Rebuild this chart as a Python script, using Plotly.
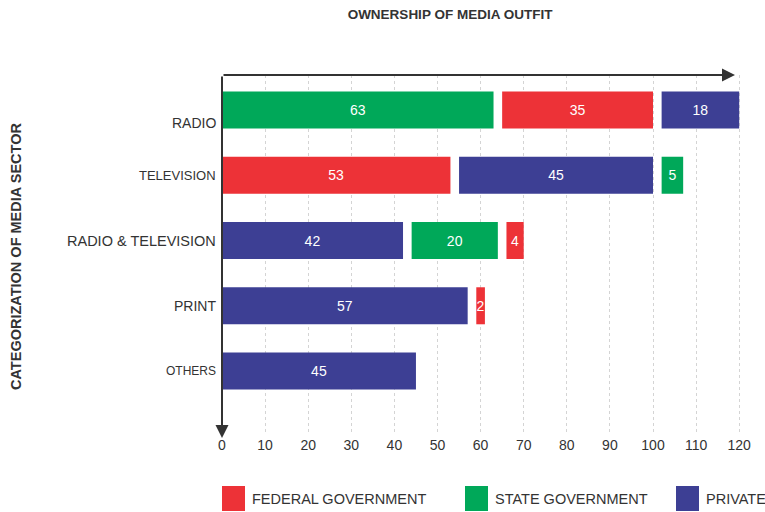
import plotly.graph_objects as go

# Media sectors and ownership counts
sectors = ["RADIO", "TELEVISION", "RADIO & TELEVISION", "PRINT", "OTHERS"]
series_names = ["FEDERAL GOVERNMENT", "STATE GOVERNMENT", "PRIVATE"]
federal = [35, 53, 4, 2, 0]
state = [63, 5, 20, 0, 0]
private = [18, 45, 42, 57, 45]
x_ticks = [0, 10, 20, 30, 40, 50, 60, 70, 80, 90, 100, 110, 120]

colors = ["#ED3237", "#00A859", "#3D3F94"]
FONT = "Liberation Sans, Arial, sans-serif"
TEXT_COL = "#333333"

W, H = 765, 512
M_L, M_R, M_T, M_B = 222, 20, 75, 77
PW, PH = W - M_L - M_R, H - M_T - M_B

def px_x(px):
    return (px - M_L) / PW

def px_y(py):
    return (H - M_B - py) / PH

series = [federal, state, private]
GAP = 2.0  # spacing between neighbouring segments, in axis units

# Segments in each row are laid out largest first, with a small gap between them
bases = [[None] * len(sectors) for _ in series]
for i in range(len(sectors)):
    order = sorted(range(len(series)), key=lambda k: -series[k][i])
    start = 0.0
    for k in order:
        v = series[k][i]
        if v > 0:
            bases[k][i] = start
            start += v + GAP

fig = go.Figure()
for k, name in enumerate(series_names):
    vals = [v if v > 0 else None for v in series[k]]
    fig.add_trace(go.Bar(
        y=list(range(len(sectors))),
        x=vals,
        base=bases[k],
        orientation="h",
        name=name,
        width=0.567,
        marker=dict(color=colors[k], line=dict(width=0)),
        text=[str(v) if v else "" for v in series[k]],
        textposition="inside",
        insidetextanchor="middle",
        textfont=dict(color="white", size=14, family=FONT),
        showlegend=False,
    ))

fig.update_layout(
    width=W, height=H,
    margin=dict(l=M_L, r=M_R, t=M_T, b=M_B),
    paper_bgcolor="white", plot_bgcolor="white",
    barmode="overlay",
    uniformtext=dict(minsize=14, mode="show"),
    font=dict(family=FONT, color=TEXT_COL),
    title=dict(text="<b>OWNERSHIP OF MEDIA OUTFIT</b>", x=450 / W, xanchor="center",
               y=1 - 14 / H, yanchor="middle",
               font=dict(size=13.5, family=FONT, color=TEXT_COL)),
    xaxis=dict(range=[0, PW / 4.31], tickvals=x_ticks, ticktext=[str(t) for t in x_ticks],
               showgrid=True, gridcolor="#d4d4d4", griddash="dot", gridwidth=1,
               zeroline=False, showline=False, ticks="", side="bottom",
               tickfont=dict(size=14, color=TEXT_COL, family=FONT)),
    yaxis=dict(range=[4.98, -0.536], showticklabels=False, showgrid=False,
               zeroline=False, showline=False, ticks=""),
)

annotations = []
# Sector labels on the left of the vertical axis
label_sizes = [14, 13, 14.5, 14, 12]
label_shift = [-13, 0, 0, 0, 0]
for i, s in enumerate(sectors):
    fam = "Liberation Sans Narrow, " + FONT if s == "OTHERS" else FONT
    annotations.append(dict(
        text=s, xref="paper", yref="y", x=0, y=i, xanchor="right", yanchor="middle",
        xshift=-4, yshift=label_shift[i], showarrow=False,
        font=dict(size=label_sizes[i], family=fam, color=TEXT_COL)))

# Vertical axis title
annotations.append(dict(
    text="<b>CATEGORIZATION OF MEDIA SECTOR</b>", xref="paper", yref="paper",
    x=px_x(16), y=px_y(257), xanchor="center", yanchor="middle", textangle=-90,
    showarrow=False, font=dict(size=14.5, family=FONT, color=TEXT_COL)))

# Axis arrows: horizontal one along the top, vertical one pointing down
annotations.append(dict(
    text="", xref="paper", yref="paper", x=px_x(735), y=px_y(75),
    ax=-(735 - M_L), ay=0, showarrow=True, arrowhead=2, arrowsize=1.3,
    arrowwidth=2, arrowcolor=TEXT_COL))
annotations.append(dict(
    text="", xref="paper", yref="paper", x=px_x(M_L), y=px_y(438),
    ax=0, ay=-(438 - 75), showarrow=True, arrowhead=2, arrowsize=1.3,
    arrowwidth=2, arrowcolor=TEXT_COL))

# Legend drawn as coloured squares with labels beneath the chart
shapes = []
legend_x = [222, 465, 676]
for k, name in enumerate(series_names):
    x0 = legend_x[k]
    shapes.append(dict(type="rect", xref="paper", yref="paper",
                       x0=px_x(x0), x1=px_x(x0 + 23), y0=px_y(511), y1=px_y(486),
                       fillcolor=colors[k], line=dict(width=0)))
    annotations.append(dict(
        text=name, xref="paper", yref="paper", x=px_x(x0 + 28), y=px_y(499),
        xanchor="left", yanchor="middle", showarrow=False,
        font=dict(size=14.5, family=FONT, color=TEXT_COL)))

fig.update_layout(annotations=annotations, shapes=shapes)

fig.write_html("out.html")
